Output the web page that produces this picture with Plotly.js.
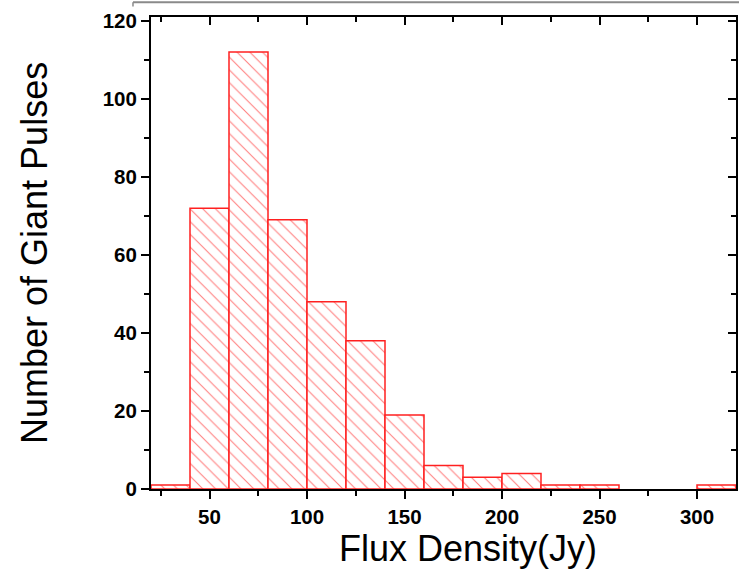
<!DOCTYPE html>
<html>
<head>
<meta charset="utf-8">
<script src="https://cdn.plot.ly/plotly-3.0.1.min.js"></script>
<style>html,body{margin:0;padding:0;background:#fff;}#chart{width:739px;height:570px;}</style>
</head>
<body>
<div id="chart"></div>
<script>
// Histogram bins (left edges, Jy) and counts
const binStart = [20, 40, 60, 80, 100, 120, 140, 160, 180, 200, 220, 240, 300];
const binWidth = 20;
const counts   = [1, 72, 112, 69, 48, 38, 19, 6, 3, 4, 1, 1, 1];
const xTickVals = [50, 100, 150, 200, 250, 300];
const yTickVals = [0, 20, 40, 60, 80, 100, 120];
const xTitle = "Flux Density(Jy)";
const yTitle = "Number of Giant Pulses";

const centers = binStart.map(v => v + binWidth / 2);

const bars = {
  type: "bar",
  x: centers,
  y: counts,
  width: binStart.map(() => binWidth),
  marker: {
    color: "white",
    line: {color: "#ff2020", width: 1.5},
    pattern: {shape: "\\", fgcolor: "#ff8080", bgcolor: "white", size: 9, solidity: 0.12}
  },
  hoverinfo: "x+y",
  showlegend: false
};

const ghost = {
  type: "scatter", mode: "markers",
  x: [centers[0]], y: [counts[0]],
  xaxis: "x2", yaxis: "y2",
  marker: {opacity: 0}, hoverinfo: "skip", showlegend: false
};

const tickFont = {family: "Liberation Sans, Arial, sans-serif", size: 20.5, color: "#000", weight: "bold"};
const titleFont = {family: "Liberation Sans, Arial, sans-serif", size: 36, color: "#000"};

const common = {
  showline: true, linecolor: "#000", linewidth: 2,
  showgrid: false, zeroline: false,
  tickcolor: "#000", tickwidth: 2
};

const layout = {
  width: 739, height: 570,
  margin: {l: 151, r: 3, t: 17, b: 81},
  paper_bgcolor: "white", plot_bgcolor: "white",
  bargap: 0,
  xaxis: Object.assign({}, common, {
    range: [20, 320], tickvals: xTickVals, ticks: "outside", ticklen: 8,
    minor: {dtick: 25, tick0: 0, ticks: "outside", ticklen: 5, tickwidth: 2, tickcolor: "#000", showgrid: false},
    tickfont: tickFont
  }),
  yaxis: Object.assign({}, common, {
    range: [0, 121], tickvals: yTickVals, ticks: "outside", ticklen: 8,
    minor: {dtick: 10, tick0: 0, ticks: "outside", ticklen: 5, tickwidth: 2, tickcolor: "#000", showgrid: false},
    tickfont: tickFont
  }),
  xaxis2: Object.assign({}, common, {
    overlaying: "x", side: "top", anchor: "y2", matches: "x",
    range: [20, 320], tickvals: xTickVals, ticks: "inside", ticklen: 8, showticklabels: false,
    minor: {dtick: 25, tick0: 0, ticks: "inside", ticklen: 5, tickwidth: 2, tickcolor: "#000", showgrid: false}
  }),
  yaxis2: Object.assign({}, common, {
    overlaying: "y", side: "right", anchor: "x2", matches: "y",
    range: [0, 121], tickvals: yTickVals, ticks: "inside", ticklen: 8, showticklabels: false,
    minor: {dtick: 10, tick0: 0, ticks: "inside", ticklen: 5, tickwidth: 2, tickcolor: "#000", showgrid: false}
  }),
  annotations: [
    {text: xTitle, xref: "paper", yref: "paper", x: 0.5419, y: -0.127,
     xanchor: "center", yanchor: "middle", showarrow: false, font: titleFont},
    {text: yTitle, xref: "paper", yref: "paper", x: -0.2, y: 0.5, textangle: -90,
     xanchor: "center", yanchor: "middle", showarrow: false, font: titleFont}
  ],
  shapes: [
    {type: "line", xref: "paper", yref: "paper", x0: -0.0308, x1: 1.01, y0: 1.031, y1: 1.031,
     line: {color: "#8a8a8a", width: 2}},
    {type: "line", xref: "paper", yref: "paper", x0: -0.0308, x1: -0.0308, y0: 1.022, y1: 1.031,
     line: {color: "#8a8a8a", width: 1.5}}
  ]
};

Plotly.newPlot("chart", [bars, ghost], layout, {displayModeBar: false, staticPlot: true});
</script>
</body>
</html>
